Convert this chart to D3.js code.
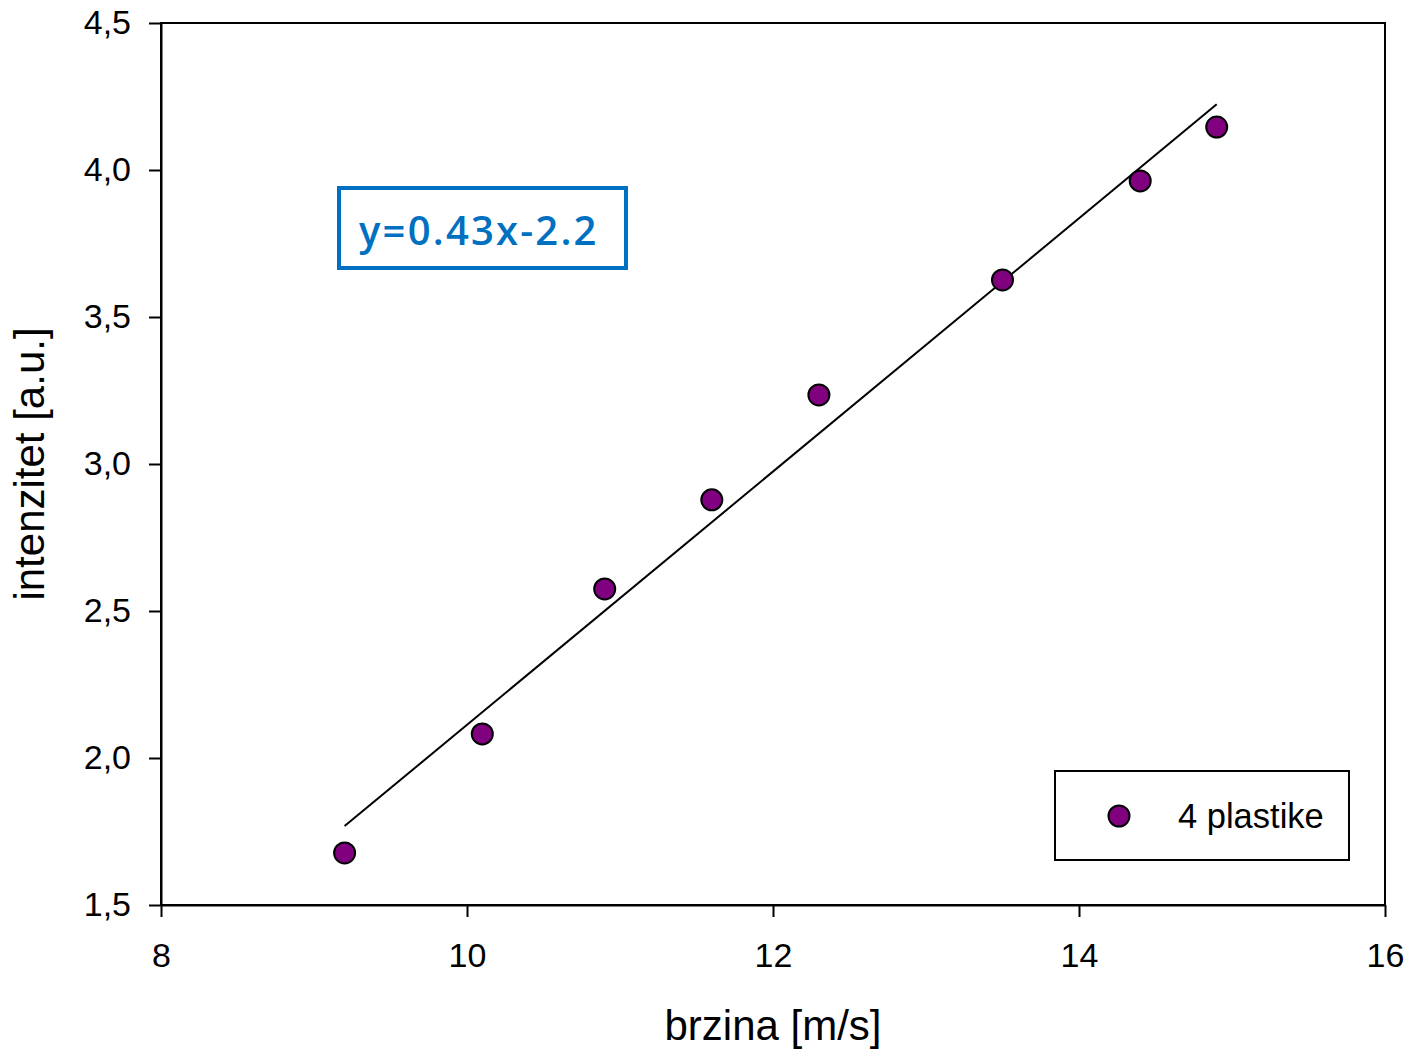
<!DOCTYPE html>
<html>
<head>
<meta charset="utf-8">
<script src="https://cdn.jsdelivr.net/npm/d3@7"></script>
<style>
  body { margin: 0; background: #fff; }
  svg text { font-family: "Liberation Sans", Arial, sans-serif; }
</style>
</head>
<body>
<div id="chart"></div>
<script>
// chart size
const width = 1408;
const height = 1050;
const margin = { top: 23, right: 23, bottom: 145, left: 161 };

// data
const brzina = [9.2, 10.1, 10.9, 11.6, 12.3, 13.5, 14.4, 14.9];
const intenzitet = [1.677, 2.082, 2.575, 2.878, 3.235, 3.626, 3.963, 4.146];
const xTicks = [8, 10, 12, 14, 16];
const yTicks = [1.5, 2.0, 2.5, 3.0, 3.5, 4.0, 4.5];
const seriesName = "4 plastike";
const equationText = "y=0.43x-2.2";

const points = brzina.map((x, i) => ({ x: x, y: intenzitet[i] }));

// least squares fit for the trend line
const mx = d3.mean(brzina);
const my = d3.mean(intenzitet);
const slope =
  d3.sum(points, (d) => (d.x - mx) * (d.y - my)) /
  d3.sum(points, (d) => (d.x - mx) * (d.x - mx));
const intercept = my - slope * mx;
const fitLine = d3.extent(brzina).map((x) => ({ x: x, y: slope * x + intercept }));

const svg = d3
  .select("#chart")
  .append("svg")
  .attr("width", width)
  .attr("height", height);

const x = d3
  .scaleLinear()
  .domain([8, 16])
  .range([margin.left, width - margin.right]);

const y = d3
  .scaleLinear()
  .domain([1.5, 4.5])
  .range([height - margin.bottom, margin.top]);

// frame (top and right borders)
svg
  .append("rect")
  .attr("x", x(8))
  .attr("y", y(4.5))
  .attr("width", x(16) - x(8))
  .attr("height", y(1.5) - y(4.5))
  .attr("fill", "none")
  .attr("stroke", "#000")
  .attr("stroke-width", 2);

// x axis
const xAxis = svg
  .append("g")
  .attr("transform", `translate(0,${y(1.5)})`)
  .call(d3.axisBottom(x).tickValues(xTicks).tickSize(12).tickSizeOuter(0).tickPadding(26));

// y axis
const yAxis = svg
  .append("g")
  .attr("transform", `translate(${x(8)},0)`)
  .call(
    d3
      .axisLeft(y)
      .tickValues(yTicks)
      .tickSize(12)
      .tickSizeOuter(0)
      .tickPadding(18)
      .tickFormat((d) => d3.format(".1f")(d).replace(".", ","))
  );

[xAxis, yAxis].forEach((g) => {
  g.select(".domain").attr("stroke", "#000").attr("stroke-width", 2);
  g.selectAll(".tick line").attr("stroke", "#000").attr("stroke-width", 2);
  g.selectAll(".tick text")
    .attr("fill", "#000")
    .style("font-family", '"Liberation Sans", Arial, sans-serif')
    .style("font-size", "34px");
});

// axis titles
svg
  .append("text")
  .attr("x", (x(8) + x(16)) / 2)
  .attr("y", 1040)
  .attr("text-anchor", "middle")
  .style("font-size", "42px")
  .text("brzina [m/s]");

svg
  .append("text")
  .attr("transform", `translate(44,${(y(1.5) + y(4.5)) / 2}) rotate(-90)`)
  .attr("text-anchor", "middle")
  .style("font-size", "42px")
  .text("intenzitet [a.u.]");

// regression line
svg
  .append("path")
  .datum(fitLine)
  .attr("fill", "none")
  .attr("stroke", "#000")
  .attr("stroke-width", 2)
  .attr(
    "d",
    d3
      .line()
      .x((d) => x(d.x))
      .y((d) => y(d.y))
  );

// data points
svg
  .selectAll("circle.pt")
  .data(points)
  .enter()
  .append("circle")
  .attr("class", "pt")
  .attr("cx", (d) => x(d.x))
  .attr("cy", (d) => y(d.y))
  .attr("r", 10.5)
  .attr("fill", "#800080")
  .attr("stroke", "#000")
  .attr("stroke-width", 2);

// equation box
svg
  .append("rect")
  .attr("x", 339)
  .attr("y", 188)
  .attr("width", 287)
  .attr("height", 80)
  .attr("fill", "#fff")
  .attr("stroke", "#0070C0")
  .attr("stroke-width", 4);

svg
  .append("text")
  .attr("x", 359)
  .attr("y", 245)
  .style("font-family", '"Open Sans", Lato, sans-serif')
  .style("font-weight", "600")
  .style("font-size", "40px")
  .style("letter-spacing", "2.2px")
  .attr("fill", "#0070C0")
  .text(equationText);

// legend
const legend = svg.append("g");
legend
  .append("rect")
  .attr("x", 1055)
  .attr("y", 771)
  .attr("width", 294)
  .attr("height", 89)
  .attr("fill", "#fff")
  .attr("stroke", "#000")
  .attr("stroke-width", 2);
legend
  .append("circle")
  .attr("cx", 1119)
  .attr("cy", 816)
  .attr("r", 10.5)
  .attr("fill", "#800080")
  .attr("stroke", "#000")
  .attr("stroke-width", 2);
legend
  .append("text")
  .attr("x", 1178)
  .attr("y", 828)
  .style("font-size", "34.5px")
  .text(seriesName);
</script>
</body>
</html>
